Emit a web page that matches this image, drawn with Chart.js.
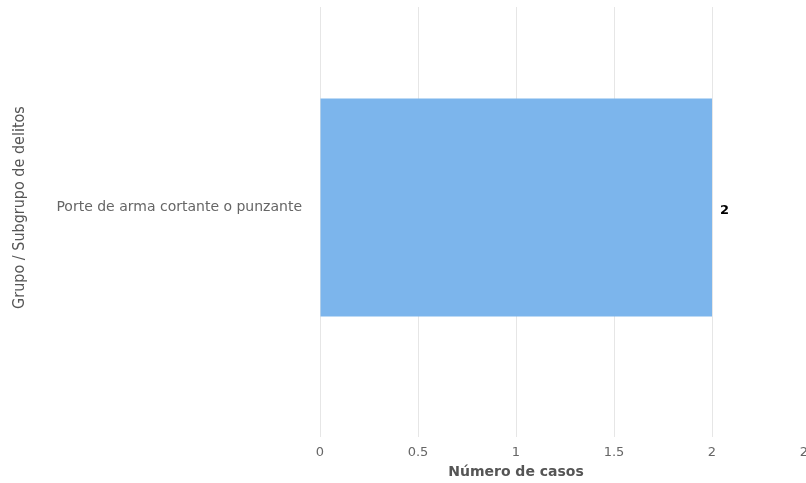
<!DOCTYPE html>
<html>
<head>
<meta charset="utf-8">
<script src="https://cdn.jsdelivr.net/npm/chart.js@4/dist/chart.umd.min.js"></script>
<style>
    html, body { margin: 0; padding: 0; background: #fff; overflow: hidden; }
    #wrap { width: 830px; height: 483px; }
</style>
</head>
<body>
<div id="wrap"><canvas id="delitosChart"></canvas></div>
<script>
// Chart data
const categories = ['Porte de arma cortante o punzante'];
const casos = [2];
const xMax = 2.5;
const xStep = 0.5;
const xTitle = 'Número de casos';
const yTitle = 'Grupo / Subgrupo de delitos';

// Draws the value at the end of each bar and the x axis title
const valueLabels = {
    id: 'valueLabels',
    afterDatasetsDraw(chart) {
        const ctx = chart.ctx;
        const meta = chart.getDatasetMeta(0);
        ctx.save();
        ctx.font = 'bold 13px "DejaVu Sans"';
        ctx.fillStyle = '#000';
        ctx.textAlign = 'left';
        ctx.textBaseline = 'middle';
        meta.data.forEach((bar, i) => {
            ctx.fillText(String(casos[i]), bar.x + 8, bar.y + 3);
        });

        // x axis title, centred under the part of the axis that is shown
        const xs = chart.scales.x;
        ctx.font = 'bold 14px "DejaVu Sans"';
        ctx.fillStyle = '#555';
        ctx.textAlign = 'center';
        ctx.fillText(xTitle, (xs.getPixelForValue(0) + xs.getPixelForValue(2)) / 2, 472);
        ctx.restore();
    }
};

const ctx = document.getElementById('delitosChart').getContext('2d');
new Chart(ctx, {
    type: 'bar',
    data: {
        labels: categories,
        datasets: [{
            label: xTitle,
            data: casos,
            backgroundColor: '#7cb5ec',
            borderWidth: 0,
            barPercentage: 0.544,
            categoryPercentage: 1
        }]
    },
    options: {
        indexAxis: 'y',
        responsive: true,
        maintainAspectRatio: false,
        animation: false,
        layout: { padding: { top: 7, right: 20, left: 10, bottom: 0 } },
        plugins: {
            legend: { display: false },
            tooltip: { enabled: false }
        },
        scales: {
            x: {
                min: 0,
                max: xMax,
                ticks: {
                    stepSize: xStep,
                    color: '#666',
                    padding: 8,
                    maxRotation: 0,
                    font: { family: '"DejaVu Sans"', size: 13 },
                    callback: (v) => String(v)
                },
                grid: {
                    color: '#e6e6e6',
                    tickLength: 29,
                    drawTicks: true
                },
                border: { display: false },
                title: { display: false },
                afterFit: (scale) => { scale.height = 75; }
            },
            y: {
                ticks: {
                    color: '#666',
                    padding: 10,
                    font: { family: '"DejaVu Sans"', size: 14 }
                },
                grid: { display: false },
                border: { display: false },
                title: {
                    display: true,
                    text: yTitle,
                    color: '#555',
                    padding: 0,
                    font: { family: '"DejaVu Sans Condensed", "DejaVu Sans"', size: 16 }
                },
                afterFit: (scale) => {
                    scale.width = 310;
                    scale.paddingTop = 0;
                    scale.paddingBottom = 0;
                }
            }
        }
    },
    plugins: [valueLabels]
});
</script>
</body>
</html>
